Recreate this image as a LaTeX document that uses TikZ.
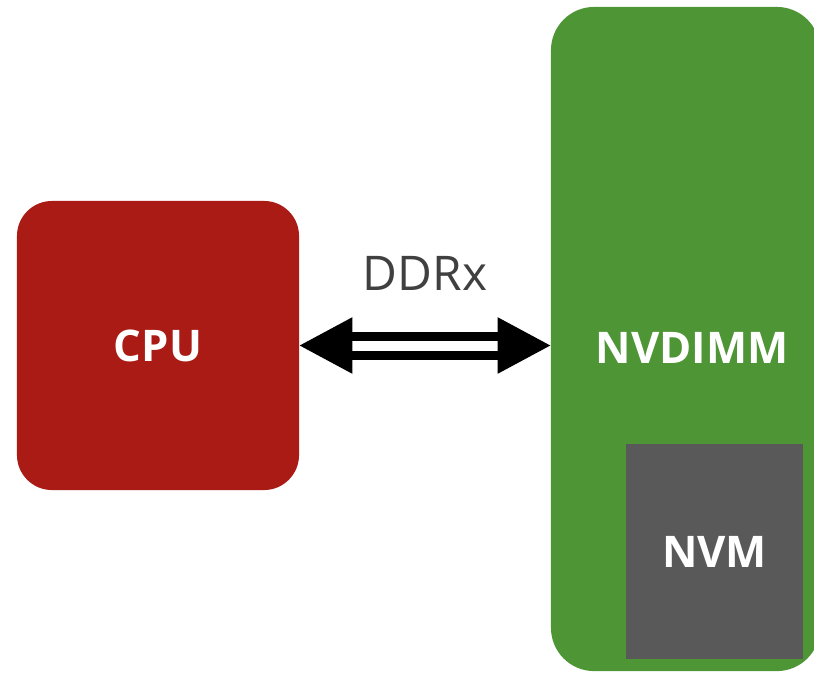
\documentclass[tikz,border=0pt]{standalone}
\usepackage{fontspec}
\setmainfont{Open Sans}
\usetikzlibrary{arrows.meta}
\definecolor{cpured}{HTML}{A91B14}
\definecolor{dimmgreen}{HTML}{4E9535}
\definecolor{nvmgray}{HTML}{595959}
\definecolor{textgray}{HTML}{404040}
\tikzset{
	box/.style={inner sep=0pt, font=\fontsize{31}{36}\selectfont\bfseries, text=white},
	link/.style={double=white, line width=0.225cm, double distance=0.25cm,
		{Triangle[length=1.325cm,width=1.35cm]}-{Triangle[length=1.325cm,width=1.35cm]}}
}
\begin{document}
\begin{tikzpicture}[x=0.025cm, y=-0.025cm]
			%\draw[help lines, color=gray!30, dashed] (0,0) grid (814,680);
			\useasboundingbox (0,0) rectangle (814,680);
			\node[box, fill=cpured, rounded corners=0.875cm, minimum width=7.05cm, minimum height=7.225cm] (cpu) at (158,345.5) {CPU};
			\node[box, fill=dimmgreen, rounded corners=1.08cm, minimum width=6.725cm, minimum height=16.6cm] (nvdimm) at (685.5,339) {};
			\node[box] (nvdimmlabel) at (692,348) {NVDIMM};
			\node[box, fill=nvmgray, minimum width=4.425cm, minimum height=5.375cm] (nvm) at (714.5,551.5) {NVM};
			\draw[link] (cpu.east) -- (cpu.east -| nvdimm.west)
				node[midway, above=1.15cm, text=textgray, font=\fontsize{34}{40}\selectfont] (ddr) {DDRx};
\end{tikzpicture}
\end{document}
